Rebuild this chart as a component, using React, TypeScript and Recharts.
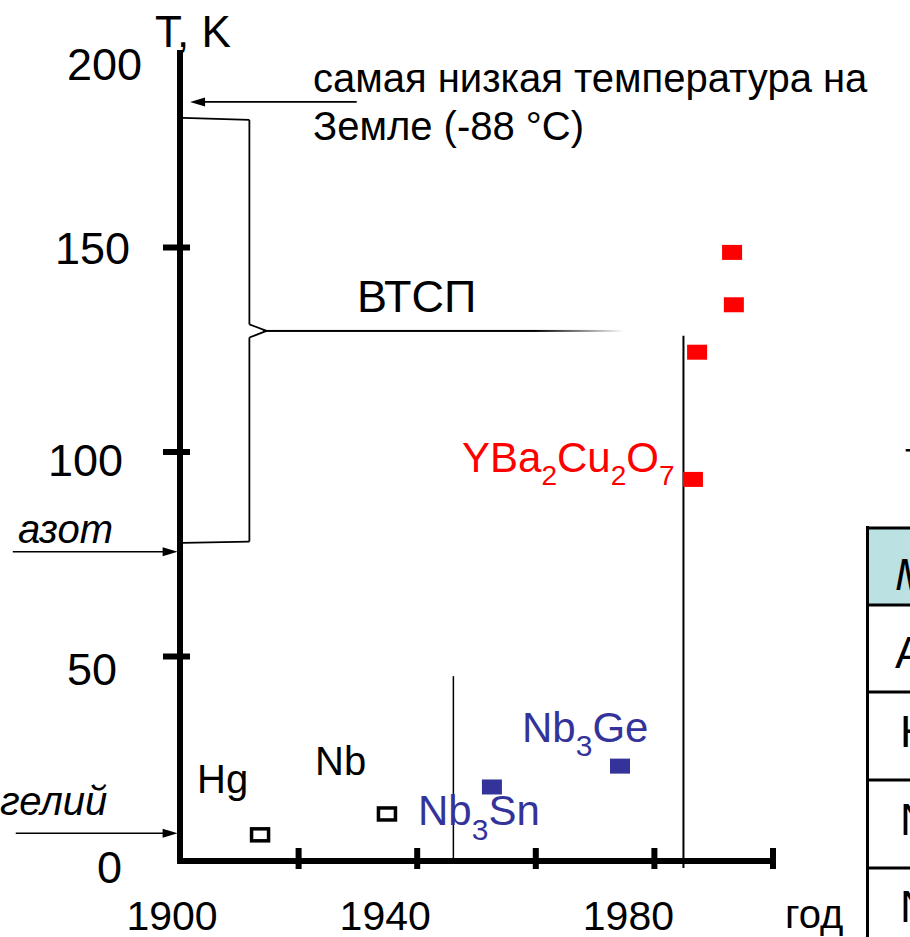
import React from "react";
import { ScatterChart, Scatter, XAxis, YAxis, ReferenceLine } from "recharts";

// classic superconductors (hollow squares)
const classicNames = ["Hg", "Nb"];
const classicYears = [1913.5, 1934.9];
const classicTc = [6.4, 11.5];

// A15 compounds (blue)
const a15Names = ["Nb3Sn", "Nb3Ge"];
const a15Years = [1952.6, 1974.2];
const a15Tc = [18.1, 23.2];

// high-Tc cuprates (red)
const htscYears = [1986.5, 1987.2, 1993.4, 1993.1];
const htscTc = [93.3, 124.4, 136.0, 148.8];

const yearTicks = [1900, 1920, 1940, 1960, 1980, 2000];
const yearLabels = [1900, 1940, 1980];
const tempTicks = [0, 50, 100, 150, 200];

// reference levels, K
const earthMinT = 185.6;
const nitrogenT = 75.6;
const heliumT = 6.8;
const htscTop = 181.7;
const htscMid = 129.6;
const htscBottom = 77.8;

const tableRows = ["М", "А", "Н", "N", "N"];

const classicData = classicNames.map((n, i) => ({ name: n, year: classicYears[i], tc: classicTc[i] }));
const a15Data = a15Names.map((n, i) => ({ name: n, year: a15Years[i], tc: a15Tc[i] }));
const htscData = htscYears.map((y, i) => ({ year: y, tc: htscTc[i] }));

const FONT = '"Liberation Sans", Arial, sans-serif';
const BLUE = "#333399";
const RED = "#ff0000";

const yLabelShift: Record<number, [number, number]> = {
  0: [-58, 22],
  50: [-63, 28],
  100: [-57, 24],
  150: [-50, 16],
  200: [-38, 37],
};
const xLabelShift: Record<number, number> = { 1900: -8, 1940: -32, 1980: -26 };

function YTick(props: any) {
  const { x, y, payload } = props;
  const v = payload.value;
  const [dx, dy] = yLabelShift[v] || [-50, 16];
  return (
    <g>
      {v > 0 && v < 200 && <rect x={x - 17} y={y - 3} width={27} height={6} fill="#000" />}
      <text x={x + dx} y={y + dy} textAnchor="end" fontSize={45} fontFamily={FONT} fill="#000">
        {v}
      </text>
    </g>
  );
}

function XTick(props: any) {
  const { x, y, payload } = props;
  const v = payload.value;
  return (
    <g>
      {v > 1900 && <rect x={x - 3} y={y - 13} width={6} height={21} fill="#000" />}
      {yearLabels.includes(v) && (
        <text x={x + (xLabelShift[v] || 0)} y={y + 69} textAnchor="middle" fontSize={41} fontFamily={FONT} fill="#000">
          {v}
        </text>
      )}
    </g>
  );
}

function Arrow(p: any) {
  const { x1, y1, x2, y2 } = p;
  const d = Math.sign(x2 - x1);
  return (
    <g>
      <line x1={x1} y1={y1} x2={x2 - d * 10} y2={y2} stroke="#000" strokeWidth={1.6} />
      <polygon points={`${x2},${y2} ${x2 - d * 15},${y2 - 4.5} ${x2 - d * 15},${y2 + 4.5}`} fill="#000" />
    </g>
  );
}

function FadeLine(p: any) {
  const { x1, y1, x2 } = p;
  return (
    <g>
      <defs>
        <linearGradient id="fadeLine" x1="0" y1="0" x2="1" y2="0">
          <stop offset="0" stopColor="#000" />
          <stop offset="0.75" stopColor="#000" />
          <stop offset="1" stopColor="#fff" />
        </linearGradient>
      </defs>
      <rect x={x1} y={y1 - 1} width={x2 - x1} height={2} fill="url(#fadeLine)" />
    </g>
  );
}

const hollow = (p: any) => (
  <rect x={p.cx - 8.5} y={p.cy - 6} width={17} height={12} fill="#fff" stroke="#000" strokeWidth={3.5} />
);
const filled = (color: string) => (p: any) => (
  <rect x={p.cx - 10} y={p.cy - 7.5} width={20} height={15} fill={color} />
);

const thin = { stroke: "#000", strokeWidth: 1.8, ifOverflow: "visible" as const };

export default function App() {
  return (
    <div style={{ position: "absolute", left: 0, top: 0, width: 910, height: 937, background: "#fff", fontFamily: FONT }}>
      <ScatterChart width={910} height={937} margin={{ top: 43, right: 137, bottom: 75, left: 179 }}>
        <XAxis
          type="number"
          dataKey="year"
          domain={[1900, 2000]}
          ticks={yearTicks}
          interval={0}
          axisLine={false}
          tickLine={false}
          tickSize={0}
          tickMargin={0}
          height={1}
          tick={<XTick />}
        />
        <YAxis
          type="number"
          dataKey="tc"
          domain={[0, 200]}
          ticks={tempTicks}
          interval={0}
          axisLine={false}
          tickLine={false}
          tickSize={0}
          tickMargin={0}
          width={1}
          tick={<YTick />}
        />
        {/* axes */}
        <ReferenceLine segment={[{ x: 1900, y: 0 }, { x: 1900, y: 198.3 }]} stroke="#000" strokeWidth={6} ifOverflow="visible" />
        <ReferenceLine segment={[{ x: 1899.5, y: 0 }, { x: 2000.5, y: 0 }]} stroke="#000" strokeWidth={6} ifOverflow="visible" />
        {/* era separators */}
        <ReferenceLine segment={[{ x: 1946.1, y: 0 }, { x: 1946.1, y: 45.2 }]} stroke="#000" strokeWidth={1.5} ifOverflow="visible" />
        <ReferenceLine segment={[{ x: 1984.9, y: -1.7 }, { x: 1984.9, y: 128.4 }]} stroke="#000" strokeWidth={2} ifOverflow="visible" />
        {/* brace for HTSC range */}
        <ReferenceLine segment={[{ x: 1900.5, y: htscTop }, { x: 1911.7, y: htscTop - 0.5 }]} {...thin} />
        <ReferenceLine segment={[{ x: 1911.7, y: htscTop - 0.5 }, { x: 1911.7, y: htscMid + 1.6 }]} {...thin} />
        <ReferenceLine segment={[{ x: 1911.7, y: htscMid + 1.6 }, { x: 1914.6, y: htscMid }]} {...thin} />
        <ReferenceLine segment={[{ x: 1914.6, y: htscMid }, { x: 1911.7, y: htscMid - 1.6 }]} {...thin} />
        <ReferenceLine segment={[{ x: 1911.7, y: htscMid - 1.6 }, { x: 1911.7, y: htscBottom + 0.3 }]} {...thin} />
        <ReferenceLine segment={[{ x: 1911.7, y: htscBottom + 0.3 }, { x: 1900.5, y: htscBottom }]} {...thin} />
        <ReferenceLine segment={[{ x: 1914.0, y: htscMid }, { x: 1975.0, y: htscMid }]} ifOverflow="visible" shape={FadeLine} />
        {/* arrows */}
        <ReferenceLine segment={[{ x: 1929.8, y: earthMinT }, { x: 1901.7, y: earthMinT }]} ifOverflow="visible" shape={Arrow} />
        <ReferenceLine segment={[{ x: 1871.8, y: nitrogenT }, { x: 1899.6, y: nitrogenT }]} ifOverflow="visible" shape={Arrow} />
        <ReferenceLine segment={[{ x: 1872.3, y: heliumT }, { x: 1899.6, y: heliumT }]} ifOverflow="visible" shape={Arrow} />

        <Scatter data={classicData} shape={hollow} isAnimationActive={false} />
        <Scatter data={a15Data} shape={filled(BLUE)} isAnimationActive={false} />
        <Scatter data={htscData} shape={filled(RED)} isAnimationActive={false} />
      </ScatterChart>

      <svg width={910} height={937} style={{ position: "absolute", left: 0, top: 0, pointerEvents: "none" }} fontFamily={FONT}>
        <text x={155} y={47} fontSize={44}>T, K</text>
        <text x={313} y={92} fontSize={40}>самая низкая температура на</text>
        <text x={313} y={140} fontSize={40}>Земле (-88 °C)</text>
        <text x={357} y={312} fontSize={45}>ВТСП</text>
        <text x={18} y={543} fontSize={40} fontStyle="italic">азот</text>
        <text x={0} y={815} fontSize={40} fontStyle="italic">гелий</text>
        <text x={197} y={793} fontSize={40}>{classicNames[0]}</text>
        <text x={315} y={775} fontSize={40}>{classicNames[1]}</text>
        <text x={418} y={825} fontSize={42} fill={BLUE}>
          Nb<tspan fontSize={30} dy={15}>3</tspan><tspan dy={-15}>Sn</tspan>
        </text>
        <text x={522} y={742} fontSize={42} fill={BLUE}>
          Nb<tspan fontSize={30} dy={14}>3</tspan><tspan dy={-14}>Ge</tspan>
        </text>
        <text x={462} y={472} fontSize={42} fill={RED}>
          YBa<tspan fontSize={28} dy={13}>2</tspan><tspan dy={-13}>Cu</tspan>
          <tspan fontSize={28} dy={13}>2</tspan><tspan dy={-13}>O</tspan>
          <tspan fontSize={28} dy={13}>7</tspan>
        </text>
        <text x={785} y={928} fontSize={40}>год</text>
        <text x={905} y={471} fontSize={40}>т</text>

        {/* partially visible table on the right */}
        <rect x={867} y={528} width={60} height={77} fill="#bce1e3" />
        <line x1={867.5} y1={526} x2={867.5} y2={937} stroke="#000" strokeWidth={3} />
        {[528, 605, 692, 780, 868].map((y) => (
          <line key={y} x1={866} y1={y} x2={910} y2={y} stroke="#000" strokeWidth={3} />
        ))}
        {tableRows.map((r, i) => (
          <text
            key={i}
            x={i < 2 ? 895 : 900}
            y={[590, 668, 747, 835, 922][i]}
            fontSize={44}
            fontStyle={i === 0 ? "italic" : "normal"}
          >
            {r}
          </text>
        ))}
      </svg>
    </div>
  );
}
